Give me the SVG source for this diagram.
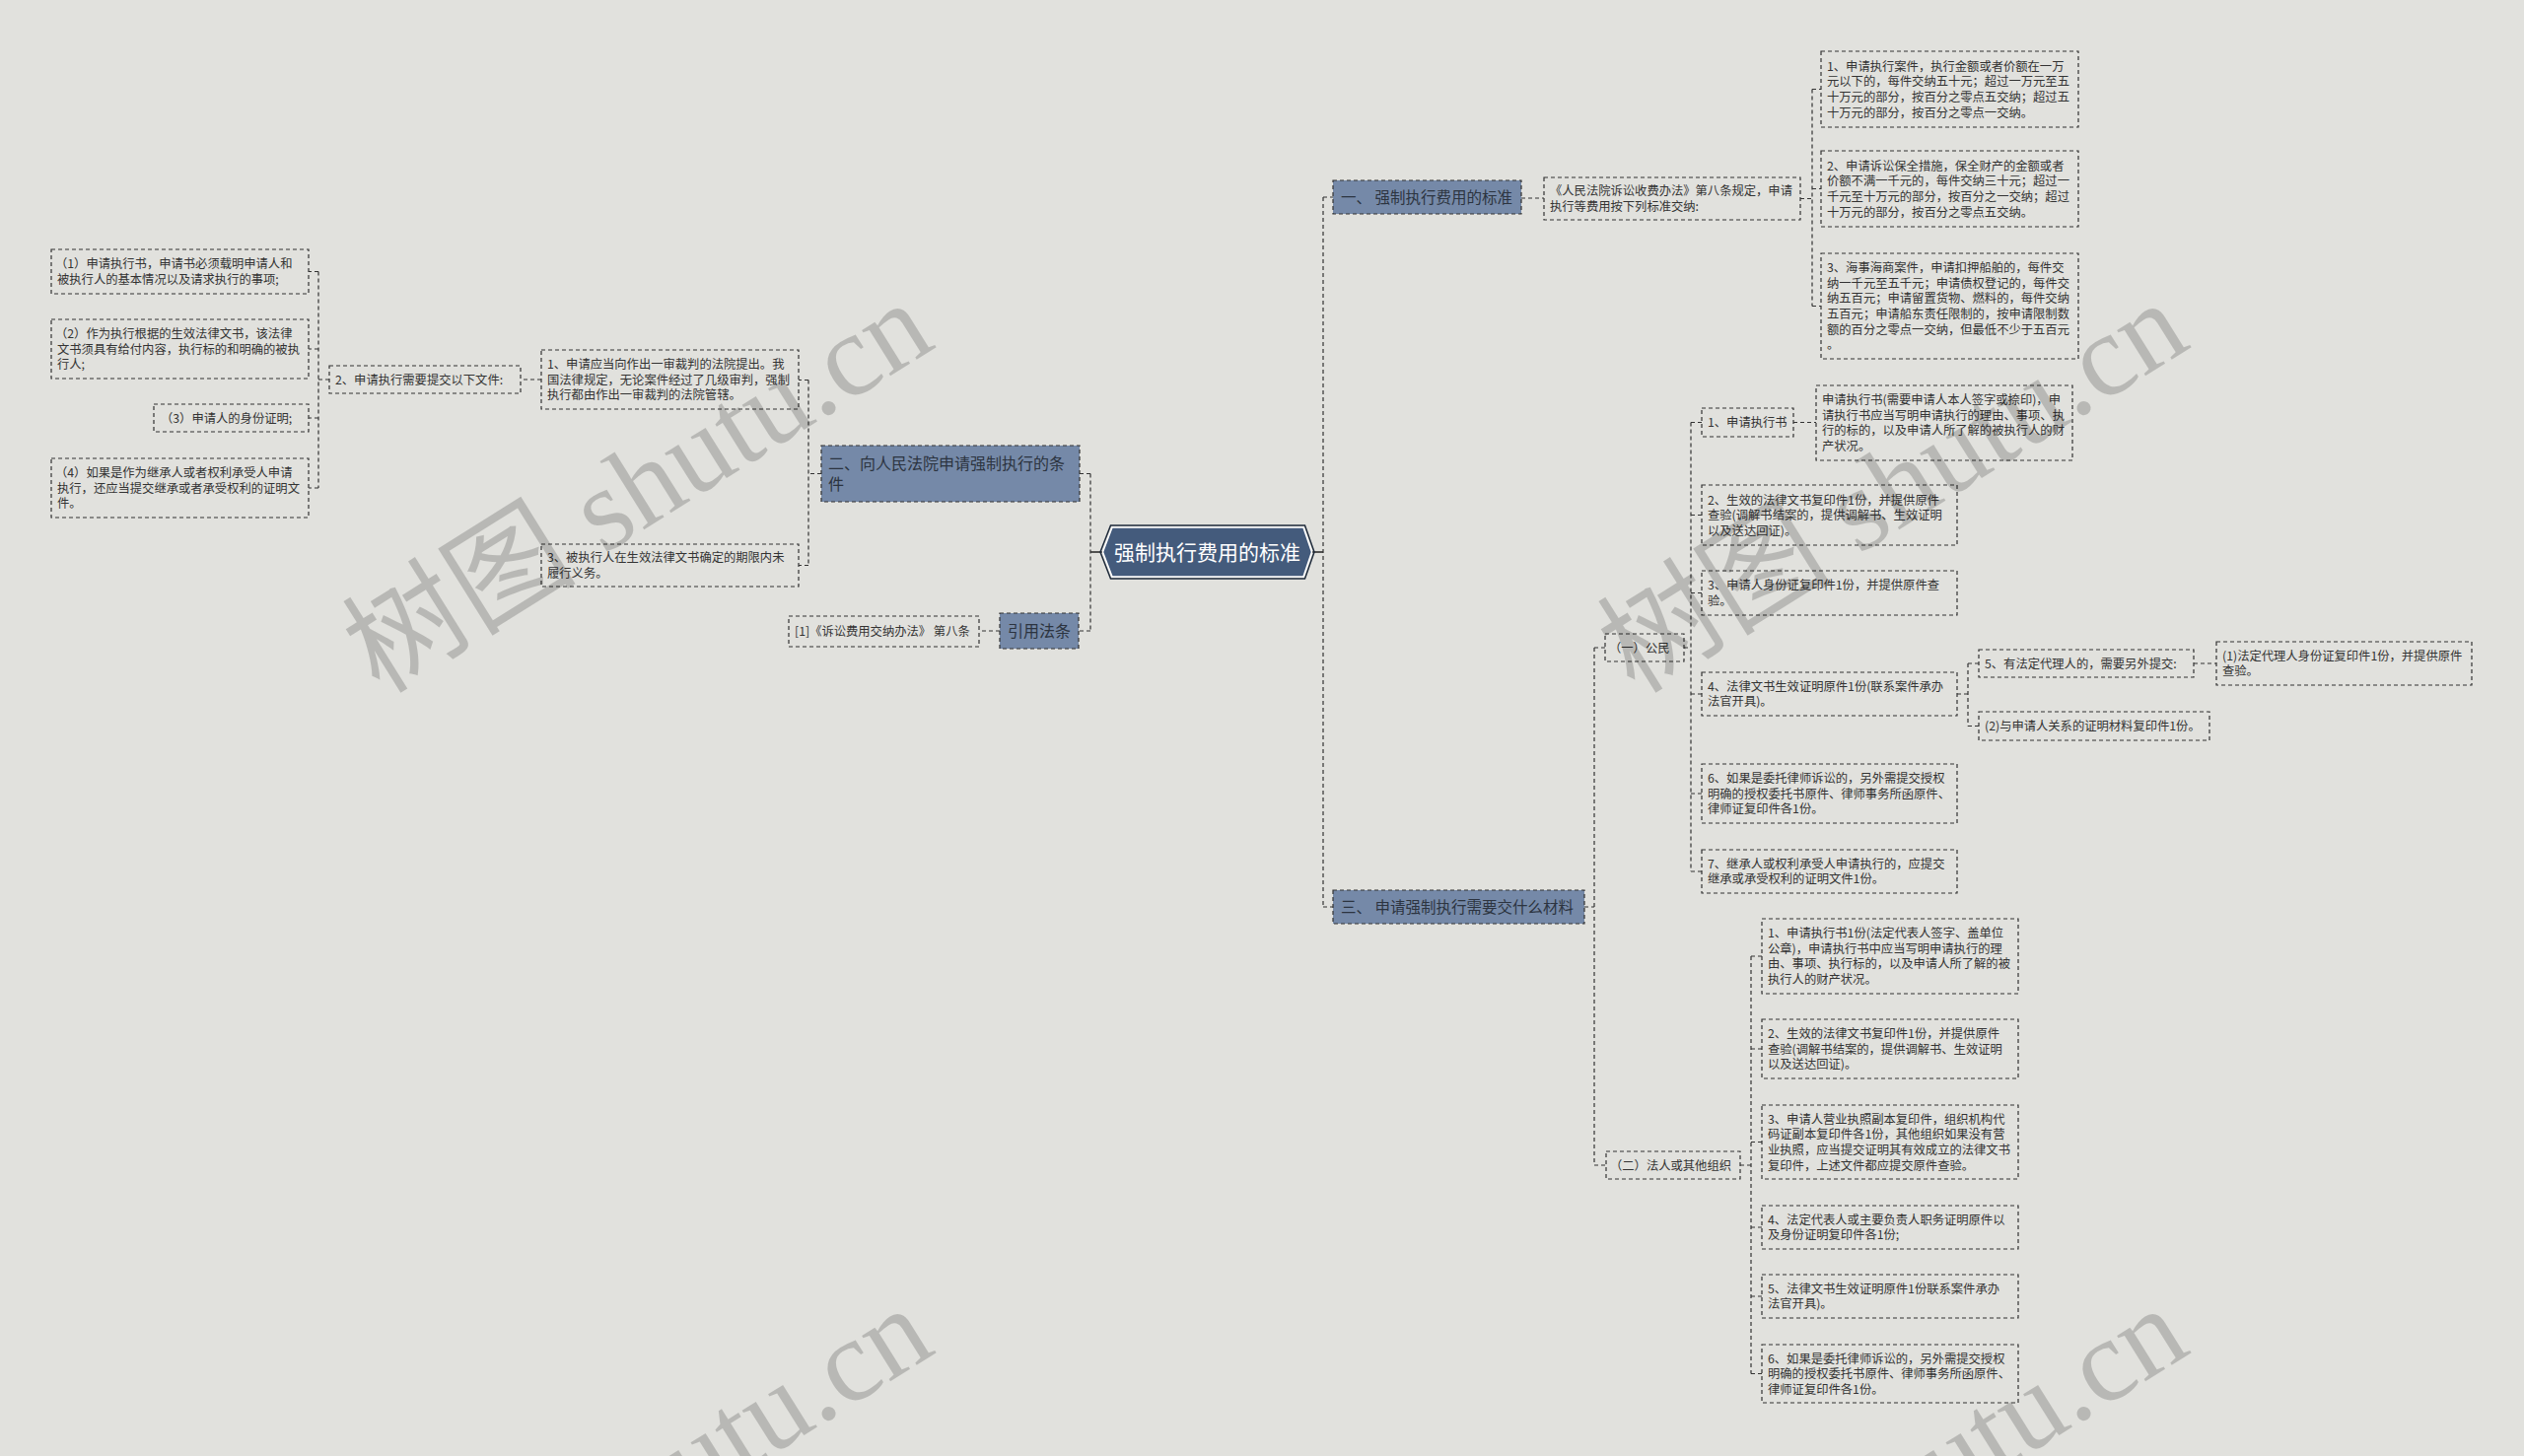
<svg xmlns="http://www.w3.org/2000/svg" width="2560" height="1477" viewBox="0 0 2560 1477">
<style>
.bg{fill:#e1e1dd}
.leaf rect{fill:#e1e1dd;stroke:#333;stroke-width:1.2;stroke-dasharray:4 3}
.leaf text{font-family:"Noto Sans CJK SC","Noto Sans",sans-serif;font-size:12.3px;fill:#333}
.br rect{fill:#7589a8;stroke:#333;stroke-width:1.2;stroke-dasharray:4 3}
.br text{font-family:"Noto Sans CJK SC","Noto Sans",sans-serif;font-size:15.5px;fill:#2c3440}
.conn{fill:none;stroke:#333;stroke-width:1.2;stroke-dasharray:4 3}
.solid{fill:none;stroke:#222;stroke-width:1.6}
.wm{font-family:"Liberation Serif","Noto Sans CJK SC",serif;font-size:119px;fill:#000;fill-opacity:0.18}
</style>
<rect class="bg" x="0" y="0" width="2560" height="1477"/>

<g id="connectors">
<path class="solid" d="M1118 560 H1106 M1331 560 H1342"/>
<path class="conn" d="M1106 480.5 V640 M1106 480.5 H1095 M1106 640 H1094 M1014 640 H993"/>
<path class="conn" d="M833 480.5 H820 M820 385.5 V573.5 M820 385.5 H810 M820 573.5 H810 M549 385 H528"/>
<path class="conn" d="M334 385 H323 M323 275.5 V495 M323 275.5 H313 M323 354 H313 M323 424 H313 M323 495 H313"/>
<path class="conn" d="M1342 200 V920 M1342 200 H1352 M1342 920 H1352 M1543 201 H1566"/>
<path class="conn" d="M1826 201.5 H1838 M1838 90.5 V310.5 M1838 90.5 H1847 M1838 191.5 H1847 M1838 310.5 H1847"/>
<path class="conn" d="M1607 920 H1617 M1617 657 V1182 M1617 657 H1628 M1617 1182 H1629"/>
<path class="conn" d="M1708 657 H1715 M1715 428.5 V884 M1715 428.5 H1726 M1715 522.5 H1726 M1715 601.5 H1726 M1715 704 H1726 M1715 805 H1726 M1715 884 H1726 M1819 428.5 H1842"/>
<path class="conn" d="M1985 704 H1996 M1996 673 V736.5 M1996 673 H2007 M1996 736.5 H2007 M2225 673 H2248"/>
<path class="conn" d="M1765 1182 H1776 M1776 970 V1393.5 M1776 970 H1787 M1776 1064 H1787 M1776 1158.5 H1787 M1776 1245 H1787 M1776 1315 H1787 M1776 1393.5 H1787"/>
</g>

<g id="center">
<polygon points="1116,560 1126.5,533 1323.5,533 1333,560 1323.5,587 1126.5,587" fill="none" stroke="#1e2a3a" stroke-width="1.5"/>
<polygon points="1118.5,560 1128,535 1322,535 1330.5,560 1322,585 1128,585" fill="#445b7c" stroke="#ffffff" stroke-width="1.5"/>
<text x="1224.5" y="568" text-anchor="middle" font-family="Noto Sans CJK SC, sans-serif" font-size="21" fill="#ffffff">强制执行费用的标准</text>
</g>

<g id="b1" class="br"><rect x="1352" y="183" width="191" height="34"/><text x="1360" y="206">一、 强制执行费用的标准</text></g>
<g id="b3" class="br"><rect x="1352" y="903" width="255" height="34"/><text x="1360" y="926">三、 申请强制执行需要交什么材料</text></g>
<g id="b2" class="br"><rect x="833" y="452" width="262" height="57"/><text style="font-size:16px"><tspan x="840" y="476">二、向人民法院申请强制执行的条</tspan><tspan x="840" y="497">件</tspan></text></g>
<g id="bref" class="br"><rect x="1014" y="622" width="80" height="36"/><text x="1022" y="646" style="font-size:16px">引用法条</text></g>

<g id="ref1" class="leaf"><rect x="800" y="625" width="193" height="31"/><text x="806" y="645.1">[1]《诉讼费用交纳办法》 第八条</text></g>

<g id="b1c" class="leaf"><rect x="1566" y="180" width="260" height="43"/><text><tspan x="1572" y="198.3">《人民法院诉讼收费办法》第八条规定，申请</tspan><tspan x="1572" y="213.9">执行等费用按下列标准交纳:</tspan></text></g>

<g id="f1" class="leaf"><rect x="1847" y="52" width="261" height="77"/><text><tspan x="1853" y="71.7">1、申请执行案件，执行金额或者价额在一万</tspan><tspan x="1853" y="87.3">元以下的，每件交纳五十元；超过一万元至五</tspan><tspan x="1853" y="102.9">十万元的部分，按百分之零点五交纳；超过五</tspan><tspan x="1853" y="118.5">十万元的部分，按百分之零点一交纳。</tspan></text></g>
<g id="f2" class="leaf"><rect x="1847" y="153" width="261" height="77"/><text><tspan x="1853" y="172.7">2、申请诉讼保全措施，保全财产的金额或者</tspan><tspan x="1853" y="188.3">价额不满一千元的，每件交纳三十元；超过一</tspan><tspan x="1853" y="203.9">千元至十万元的部分，按百分之一交纳；超过</tspan><tspan x="1853" y="219.5">十万元的部分，按百分之零点五交纳。</tspan></text></g>
<g id="f3" class="leaf"><rect x="1847" y="257" width="261" height="107"/><text><tspan x="1853" y="276.1">3、海事海商案件，申请扣押船舶的，每件交</tspan><tspan x="1853" y="291.7">纳一千元至五千元；申请债权登记的，每件交</tspan><tspan x="1853" y="307.3">纳五百元；申请留置货物、燃料的，每件交纳</tspan><tspan x="1853" y="322.9">五百元；申请船东责任限制的，按申请限制数</tspan><tspan x="1853" y="338.5">额的百分之零点一交纳，但最低不少于五百元</tspan><tspan x="1853" y="354.1">。</tspan></text></g>

<g id="gm" class="leaf"><rect x="1628" y="643" width="80" height="28"/><text x="1632" y="661.6">（一）公民</text></g>
<g id="fr" class="leaf"><rect x="1629" y="1168" width="136" height="28"/><text x="1633" y="1186.6">（二）法人或其他组织</text></g>

<g id="c1" class="leaf"><rect x="1726" y="414" width="93" height="29"/><text x="1732" y="433.1">1、申请执行书</text></g>
<g id="c1a" class="leaf"><rect x="1842" y="391" width="260" height="76"/><text><tspan x="1848" y="410.2">申请执行书(需要申请人本人签字或捺印)，申</tspan><tspan x="1848" y="425.8">请执行书应当写明申请执行的理由、事项、执</tspan><tspan x="1848" y="441.4">行的标的，以及申请人所了解的被执行人的财</tspan><tspan x="1848" y="457">产状况。</tspan></text></g>
<g id="c2" class="leaf"><rect x="1726" y="492" width="259" height="61"/><text><tspan x="1732" y="511.5">2、生效的法律文书复印件1份，并提供原件</tspan><tspan x="1732" y="527.1">查验(调解书结案的，提供调解书、生效证明</tspan><tspan x="1732" y="542.7">以及送达回证)。</tspan></text></g>
<g id="c3" class="leaf"><rect x="1726" y="579" width="259" height="45"/><text><tspan x="1732" y="598.3">3、申请人身份证复印件1份，并提供原件查</tspan><tspan x="1732" y="613.9">验。</tspan></text></g>
<g id="c4" class="leaf"><rect x="1726" y="682" width="259" height="44"/><text><tspan x="1732" y="700.8">4、法律文书生效证明原件1份(联系案件承办</tspan><tspan x="1732" y="716.4">法官开具)。</tspan></text></g>
<g id="c5" class="leaf"><rect x="2007" y="659" width="218" height="28"/><text x="2013" y="677.6">5、有法定代理人的，需要另外提交:</text></g>
<g id="c5a" class="leaf"><rect x="2248" y="651" width="259" height="44"/><text><tspan x="2254" y="669.8">(1)法定代理人身份证复印件1份，并提供原件</tspan><tspan x="2254" y="685.4">查验。</tspan></text></g>
<g id="c5b" class="leaf"><rect x="2007" y="722" width="234" height="29"/><text x="2013" y="741.1">(2)与申请人关系的证明材料复印件1份。</text></g>
<g id="c6" class="leaf"><rect x="1726" y="775" width="259" height="60"/><text><tspan x="1732" y="794">6、如果是委托律师诉讼的，另外需提交授权</tspan><tspan x="1732" y="809.6">明确的授权委托书原件、律师事务所函原件、</tspan><tspan x="1732" y="825.2">律师证复印件各1份。</tspan></text></g>
<g id="c7" class="leaf"><rect x="1726" y="862" width="259" height="44"/><text><tspan x="1732" y="880.8">7、继承人或权利承受人申请执行的，应提交</tspan><tspan x="1732" y="896.4">继承或承受权利的证明文件1份。</tspan></text></g>

<g id="p1" class="leaf"><rect x="1787" y="932" width="260" height="76"/><text><tspan x="1793" y="951.2">1、申请执行书1份(法定代表人签字、盖单位</tspan><tspan x="1793" y="966.8">公章)，申请执行书中应当写明申请执行的理</tspan><tspan x="1793" y="982.4">由、事项、执行标的，以及申请人所了解的被</tspan><tspan x="1793" y="998">执行人的财产状况。</tspan></text></g>
<g id="p2" class="leaf"><rect x="1787" y="1034" width="260" height="60"/><text><tspan x="1793" y="1053">2、生效的法律文书复印件1份，并提供原件</tspan><tspan x="1793" y="1068.6">查验(调解书结案的，提供调解书、生效证明</tspan><tspan x="1793" y="1084.2">以及送达回证)。</tspan></text></g>
<g id="p3" class="leaf"><rect x="1787" y="1121" width="260" height="75"/><text><tspan x="1793" y="1139.7">3、申请人营业执照副本复印件，组织机构代</tspan><tspan x="1793" y="1155.3">码证副本复印件各1份，其他组织如果没有营</tspan><tspan x="1793" y="1170.9">业执照，应当提交证明其有效成立的法律文书</tspan><tspan x="1793" y="1186.5">复印件，上述文件都应提交原件查验。</tspan></text></g>
<g id="p4" class="leaf"><rect x="1787" y="1223" width="260" height="44"/><text><tspan x="1793" y="1241.8">4、法定代表人或主要负责人职务证明原件以</tspan><tspan x="1793" y="1257.4">及身份证明复印件各1份;</tspan></text></g>
<g id="p5" class="leaf"><rect x="1787" y="1293" width="260" height="44"/><text><tspan x="1793" y="1311.8">5、法律文书生效证明原件1份联系案件承办</tspan><tspan x="1793" y="1327.4">法官开具)。</tspan></text></g>
<g id="p6" class="leaf"><rect x="1787" y="1364" width="260" height="59"/><text><tspan x="1793" y="1382.5">6、如果是委托律师诉讼的，另外需提交授权</tspan><tspan x="1793" y="1398.1">明确的授权委托书原件、律师事务所函原件、</tspan><tspan x="1793" y="1413.7">律师证复印件各1份。</tspan></text></g>

<g id="a1" class="leaf"><rect x="549" y="355" width="261" height="60"/><text><tspan x="555" y="374">1、申请应当向作出一审裁判的法院提出。我</tspan><tspan x="555" y="389.6">国法律规定，无论案件经过了几级审判，强制</tspan><tspan x="555" y="405.2">执行都由作出一审裁判的法院管辖。</tspan></text></g>
<g id="a3" class="leaf"><rect x="549" y="552" width="261" height="43"/><text><tspan x="555" y="570.3">3、被执行人在生效法律文书确定的期限内未</tspan><tspan x="555" y="585.9">履行义务。</tspan></text></g>
<g id="a2" class="leaf"><rect x="334" y="371" width="194" height="28"/><text x="340" y="389.6">2、申请执行需要提交以下文件:</text></g>
<g id="d1" class="leaf"><rect x="52" y="253" width="261" height="45"/><text><tspan x="56" y="272.3">（1）申请执行书，申请书必须载明申请人和</tspan><tspan x="58" y="287.9">被执行人的基本情况以及请求执行的事项;</tspan></text></g>
<g id="d2" class="leaf"><rect x="52" y="324" width="261" height="60"/><text><tspan x="56" y="343">（2）作为执行根据的生效法律文书，该法律</tspan><tspan x="58" y="358.6">文书须具有给付内容，执行标的和明确的被执</tspan><tspan x="58" y="374.2">行人;</tspan></text></g>
<g id="d3" class="leaf"><rect x="156" y="410" width="157" height="28"/><text x="163" y="428.6">（3）申请人的身份证明;</text></g>
<g id="d4" class="leaf"><rect x="52" y="465" width="261" height="60"/><text><tspan x="56" y="484">（4）如果是作为继承人或者权利承受人申请</tspan><tspan x="58" y="499.6">执行，还应当提交继承或者承受权利的证明文</tspan><tspan x="58" y="515.2">件。</tspan></text></g>

<g id="watermark">
<text class="wm" transform="translate(385,705) rotate(-32)">树图 shutu.cn</text>
<text class="wm" transform="translate(1658,705) rotate(-32)">树图 shutu.cn</text>
<text class="wm" transform="translate(385,1725) rotate(-32)">树图 shutu.cn</text>
<text class="wm" transform="translate(1658,1725) rotate(-32)">树图 shutu.cn</text>
</g>
</svg>
